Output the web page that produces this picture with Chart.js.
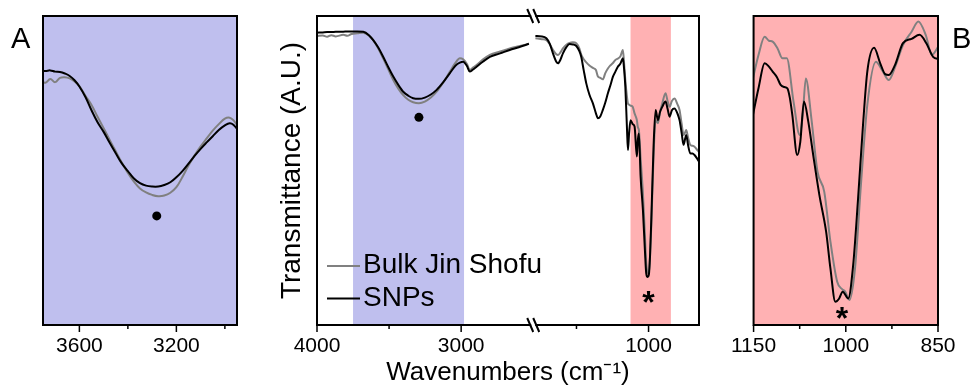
<!DOCTYPE html>
<html>
<head>
<meta charset="utf-8">
<script src="https://cdn.jsdelivr.net/npm/chart.js@4.4.1/dist/chart.umd.min.js"></script>
<style>
    html, body { margin: 0; padding: 0; background: #fff; }
    #wrap { position: relative; width: 970px; height: 386px; }
    .panel { position: absolute; top: 0; height: 386px; }
</style>
</head>
<body>
<div id="wrap">
    <div class="panel" style="left:0;width:262px"><canvas id="chartA" width="262" height="386"></canvas></div>
    <div class="panel" style="left:262px;width:460px"><canvas id="chartMain" width="460" height="386"></canvas></div>
    <div class="panel" style="left:722px;width:248px"><canvas id="chartB" width="248" height="386"></canvas></div>
</div>
<script>
// ---- data (transmittance, arbitrary units) ----
const seriesNames = ['Bulk Jin Shofu', 'SNPs'];

// panel A : 3760 - 2940 cm-1
const aWn = [3760, 3740, 3720, 3700, 3680, 3660, 3640, 3620, 3600, 3575, 3550, 3525, 3500, 3475, 3450, 3425, 3400, 3375,
    3350, 3325, 3300, 3275, 3250, 3225, 3200, 3175, 3150, 3125, 3100, 3075, 3050, 3025, 3000, 2980, 2965, 2940];
const aSnp = [82.4, 82.2, 82.4, 82.0, 81.9, 81.4, 80.6, 79.2, 77.2, 73.8, 69.5, 65.6, 62.5, 59.0, 55.6, 52.3, 49.8, 47.4,
    45.9, 45.1, 44.8, 44.8, 45.3, 46.2, 47.8, 49.8, 52.2, 54.7, 57.0, 59.1, 61.1, 63.1, 64.6, 65.3, 64.8, 62.5];
const aBulk = [79.0, 78.4, 79.6, 78.6, 80.0, 80.2, 79.8, 78.8, 77.3, 74.2, 71.2, 67.4, 63.7, 59.9, 56.2, 52.6, 49.2, 46.4,
    44.2, 42.9, 42.1, 41.7, 41.9, 42.8, 44.6, 47.9, 51.6, 54.9, 57.8, 60.4, 62.9, 65.0, 66.8, 67.1, 66.3, 63.6];

// main panel, high wavenumber segment
const mainHiWn = [4000, 3960, 3930, 3900, 3870, 3818, 3790, 3760, 3720, 3679, 3640, 3610, 3575, 3541, 3506, 3471, 3436, 3402,
    3367, 3333, 3293, 3252, 3210, 3170, 3124, 3078, 3040, 3009, 2986, 2960, 2940, 2920, 2893, 2850, 2801, 2730, 2663, 2600, 2530];
const mainHiSnp = [94.6, 94.7, 94.8, 94.8, 94.9, 94.9, 95.0, 95.0, 95.0, 94.9, 93.8, 92.2, 89.8, 86.8, 83.5, 80.4, 77.7, 75.5,
    74.2, 73.4, 73.2, 73.6, 74.6, 76.1, 78.6, 81.5, 83.9, 84.9, 85.2, 83.8, 82.0, 82.6, 83.6, 85.2, 86.8, 87.9, 89.0, 89.9, 91.0];
const mainHiBulk = [93.5, 93.7, 93.3, 93.8, 93.4, 93.9, 93.6, 94.2, 94.4, 94.6, 93.7, 92.2, 89.5, 86.3, 82.8, 79.3, 76.5, 74.4,
    72.9, 72.1, 71.8, 72.3, 73.6, 75.5, 78.5, 82.0, 84.8, 86.3, 86.0, 84.5, 82.5, 83.2, 84.1, 85.9, 87.4, 88.5, 89.5, 90.2, 91.0];

// main panel, low wavenumber segment
const mainLoWn = [1785, 1740, 1709, 1685, 1663, 1640, 1628, 1610, 1594, 1570, 1548, 1525, 1501, 1480, 1467, 1450, 1432, 1410,
    1386, 1365, 1351, 1335, 1317, 1300, 1282, 1265, 1247, 1230, 1213, 1195, 1178, 1170, 1161, 1150, 1143, 1135, 1125, 1110,
    1097, 1081, 1074, 1067, 1055, 1039, 1025, 1016, 1006, 998, 990, 981, 965, 951, 935, 920, 905, 882, 868, 854, 838, 820,
    800, 785, 770, 757, 745, 739, 725, 711, 695, 681, 665, 652];
const mainLoSnp = [93.5, 93.4, 92.8, 91.0, 87.9, 85.2, 84.7, 86.0, 87.9, 89.9, 90.9, 90.8, 90.3, 88.6, 86.8, 82.5, 78.2, 74.5,
    71.7, 68.5, 66.9, 67.5, 69.6, 72.0, 75.0, 77.5, 80.4, 82.0, 83.6, 84.6, 86.3, 83.0, 77.1, 64.0, 56.6, 62.0, 66.3, 65.0,
    64.2, 54.5, 60.0, 62.0, 48.0, 37.2, 24.0, 16.7, 15.5, 16.2, 22.0, 34.0, 58.0, 69.6, 66.3, 69.0, 70.6, 72.3, 70.0, 67.4,
    69.5, 70.1, 68.5, 66.3, 62.0, 58.3, 60.5, 61.5, 58.0, 55.6, 55.5, 55.0, 54.0, 53.0];
const mainLoBulk = [92.8, 92.5, 92.2, 90.8, 89.0, 87.6, 87.4, 88.3, 89.5, 90.7, 91.3, 91.5, 91.2, 89.5, 87.5, 86.0, 85.0, 84.0,
    83.2, 82.5, 80.4, 80.0, 79.5, 81.5, 83.0, 84.0, 84.8, 85.8, 86.2, 87.0, 89.0, 85.0, 79.3, 74.0, 71.7, 71.3, 71.0, 70.6,
    68.5, 66.3, 64.0, 63.1, 54.0, 42.6, 29.0, 20.0, 17.0, 16.7, 22.0, 31.8, 55.0, 66.3, 65.3, 69.0, 71.7, 75.0, 72.5, 70.6,
    72.5, 73.3, 71.5, 69.6, 65.0, 61.5, 62.5, 63.1, 60.5, 58.3, 58.0, 57.7, 56.8, 56.1];

// panel B : 1150 - 850 cm-1
const bSnpWn = [1152, 1142, 1132, 1125, 1119, 1112, 1106, 1100, 1095, 1091, 1087, 1079, 1074, 1068, 1061, 1053, 1043, 1032,
    1025, 1017, 1011, 1005, 996, 988, 980, 972, 965, 954, 944, 936, 930, 920, 907, 893, 880, 869, 858, 848];
const bSnp = [67.0, 76.6, 84.7, 83.6, 82.0, 80.2, 77.7, 77.0, 76.6, 73.5, 68.0, 55.0, 59.3, 72.3, 65.8, 55.0, 42.1, 30.2,
    18.3, 7.5, 8.5, 10.8, 8.6, 19.4, 41.0, 64.7, 82.0, 89.7, 84.7, 81.2, 80.9, 84.1, 91.2, 92.6, 93.9, 91.2, 86.8, 86.0];
const bBulkWn = [1152, 1142, 1132, 1125, 1119, 1111, 1103, 1096, 1085, 1075, 1070, 1065, 1056, 1046, 1035, 1025, 1014, 1006,
    1001, 994, 985, 975, 965, 951, 941, 930, 920, 907, 893, 882, 870, 860, 848];
const bBulk = [79.0, 87.4, 93.3, 92.0, 91.7, 89.5, 86.3, 86.3, 72.3, 61.5, 68.0, 79.8, 66.9, 49.6, 43.1, 27.0, 14.0, 11.6,
    10.8, 8.1, 18.3, 46.4, 71.2, 85.2, 82.5, 79.3, 83.4, 90.6, 94.9, 98.2, 93.9, 87.4, 90.6];

// x ranges, ticks, shaded bands, markers
const aRange = [2950, 3750];
const aMajor = [3600, 3200];
const aMinor = [3400, 3000];
const bRange = [850, 1150];
const bMajor = [1150, 1000, 850];
const bMinor = [1075, 925];
const mainMajor = [4000, 3000, 1000];
const mainMinor = [3500, 1500];
const blueBand = [3750, 2980];
const redBand = [1125, 845];
const dotA = [{ wn: 3281, t: 35.3 }];
const dotMain = [{ wn: 3293, t: 67.2 }];
const starMain = [{ wn: 1000, t: 9.1 }];
const starB = [{ wn: 1006, t: 3.8 }];

// broken axis: 4000-2500 and 1800-650 on one continuous scale
const BREAK_HI = 2500, BREAK_LO = 1800, LOW_END = 650;
function toAxis(w) { return w >= BREAK_HI ? 4000 - w : (4000 - BREAK_HI) + (BREAK_LO - w); }
function fromAxis(u) { return u <= 4000 - BREAK_HI ? 4000 - u : BREAK_LO - (u - (4000 - BREAK_HI)); }

const FONT = "'Liberation Sans', Arimo, Arial, sans-serif";
const BLUE = '#bfbfee';
const RED = '#ffb1b3';
const GREY = '#808080';

// decoration plugin: bands, frame, tick marks, axis break, markers, legend, panel letter
function decor(cfg) {
    const tx = cfg.toX || (v => v);
    return {
        id: 'decor',
        beforeDatasetsDraw(chart) {
            const { ctx, chartArea: ca, scales: { x } } = chart;
            ctx.save();
            (cfg.bands || []).forEach(b => {
                const x1 = x.getPixelForValue(tx(b.from));
                const x2 = x.getPixelForValue(tx(b.to));
                const l = Math.max(ca.left, Math.min(x1, x2));
                const r = Math.min(ca.right, Math.max(x1, x2));
                ctx.fillStyle = b.color;
                ctx.fillRect(l, ca.top, r - l, ca.bottom - ca.top);
            });
            ctx.restore();
        },
        afterDraw(chart) {
            const { ctx, chartArea: ca, scales: { x, y } } = chart;
            ctx.save();
            ctx.strokeStyle = '#000';
            ctx.fillStyle = '#000';

            // asterisks
            (cfg.stars || []).forEach(s => {
                ctx.font = 'bold 32px ' + FONT;
                const m = ctx.measureText('*');
                const px = x.getPixelForValue(tx(s.wn));
                const py = y.getPixelForValue(s.t);
                ctx.textAlign = 'center';
                ctx.textBaseline = 'alphabetic';
                ctx.fillText('*', px, py + (m.actualBoundingBoxAscent - m.actualBoundingBoxDescent) / 2);
            });

            // frame
            ctx.lineWidth = 2;
            ctx.lineCap = 'square';
            ctx.beginPath();
            if (cfg.breakAt !== undefined) {
                const bx = x.getPixelForValue(cfg.breakAt);
                [ca.top, ca.bottom].forEach(yy => {
                    ctx.moveTo(ca.left, yy); ctx.lineTo(bx - 3, yy);
                    ctx.moveTo(bx + 3, yy); ctx.lineTo(ca.right, yy);
                });
                ctx.moveTo(ca.left, ca.top); ctx.lineTo(ca.left, ca.bottom);
                ctx.moveTo(ca.right, ca.top); ctx.lineTo(ca.right, ca.bottom);
                ctx.stroke();
                ctx.beginPath();
                ctx.lineCap = 'butt';
                [ca.top, ca.bottom].forEach(yy => {
                    [-3, 3].forEach(dx => {
                        ctx.moveTo(bx + dx - 3, yy - 7);
                        ctx.lineTo(bx + dx + 3, yy + 7);
                    });
                });
                ctx.stroke();
            } else {
                ctx.rect(ca.left, ca.top, ca.right - ca.left, ca.bottom - ca.top);
                ctx.stroke();
            }

            // tick marks
            ctx.lineWidth = 1.5;
            ctx.lineCap = 'butt';
            ctx.beginPath();
            cfg.major.forEach(v => {
                const px = x.getPixelForValue(tx(v));
                ctx.moveTo(px, ca.bottom); ctx.lineTo(px, ca.bottom + 7);
            });
            cfg.minor.forEach(v => {
                const px = x.getPixelForValue(tx(v));
                ctx.moveTo(px, ca.bottom); ctx.lineTo(px, ca.bottom + 4);
            });
            ctx.stroke();

            // legend
            if (cfg.legend) {
                ctx.font = '28px ' + FONT;
                ctx.textAlign = 'left';
                ctx.textBaseline = 'alphabetic';
                cfg.legend.forEach((item, i) => {
                    const ly = ca.bottom - 59 + i * 32.5;
                    ctx.strokeStyle = item.color;
                    ctx.lineWidth = item.width;
                    ctx.beginPath();
                    ctx.moveTo(ca.left + 10, ly);
                    ctx.lineTo(ca.left + 43, ly);
                    ctx.stroke();
                    ctx.fillStyle = '#000';
                    ctx.fillText(item.text, ca.left + 46, ly + 7);
                });
            }

            // panel letter
            if (cfg.letter) {
                ctx.font = '29px ' + FONT;
                ctx.fillStyle = '#000';
                ctx.textAlign = 'left';
                ctx.textBaseline = 'alphabetic';
                ctx.fillText(cfg.letter.text, cfg.letter.x, cfg.letter.y);
            }
            ctx.restore();
        }
    };
}

function lineSet(label, points, color, width, smooth) {
    const ds = {
        label: label,
        data: points,
        borderColor: color,
        borderWidth: width,
        pointRadius: 0,
        fill: false,
        spanGaps: false
    };
    if (smooth) {
        ds.tension = 0.4;
    } else {
        ds.cubicInterpolationMode = 'monotone';
    }
    return ds;
}

function dotSet(points) {
    return {
        label: 'marker',
        data: points,
        showLine: false,
        pointRadius: 4.5,
        pointBackgroundColor: '#000',
        pointBorderWidth: 0,
        borderColor: '#000'
    };
}

function xAxis(min, max, reverse, tickVals, majors, toX, fromX, height, extra) {
    const axis = {
        type: 'linear',
        min: min,
        max: max,
        reverse: reverse,
        afterBuildTicks: s => { s.ticks = tickVals.map(v => ({ value: toX(v) })); },
        afterFit: s => { s.height = height; },
        grid: { display: false, drawTicks: false },
        border: { display: false },
        ticks: {
            autoSkip: false,
            maxRotation: 0,
            padding: 9,
            color: '#000',
            font: { family: FONT, size: 21 },
            callback: v => {
                const w = Math.round(fromX(v));
                return majors.includes(w) ? String(w) : '';
            }
        }
    };
    return Object.assign(axis, extra || {});
}

const ident = v => v;
const baseOpts = {
    responsive: false,
    animation: false,
    devicePixelRatio: 1,
    events: [],
    plugins: { legend: { display: false }, tooltip: { enabled: false } }
};

// ---- panel A ----
new Chart(document.getElementById('chartA').getContext('2d'), {
    type: 'line',
    data: {
        datasets: [
            dotSet(dotA.map(d => ({ x: d.wn, y: d.t }))),
            lineSet(seriesNames[1], aWn.map((w, i) => ({ x: w, y: aSnp[i] })), '#000', 2, true),
            lineSet(seriesNames[0], aWn.map((w, i) => ({ x: w, y: aBulk[i] })), GREY, 2, true)
        ]
    },
    options: Object.assign({}, baseOpts, {
        layout: { padding: { left: 43, top: 16, right: 25, bottom: 21 } },
        scales: {
            x: xAxis(aRange[0], aRange[1], true, aMajor.concat(aMinor).sort((a, b) => b - a), aMajor, ident, ident, 40),
            y: { display: false, min: 0, max: 100 }
        }
    }),
    plugins: [decor({
        bands: [{ from: aRange[1], to: aRange[0], color: BLUE }],
        major: aMajor, minor: aMinor,
        letter: { text: 'A', x: 11, y: 48 }
    })]
});

// ---- main panel ----
function brokenSeries(hiVals, loVals) {
    return mainHiWn.map((w, i) => ({ x: toAxis(w), y: hiVals[i] }))
        .concat([{ x: 4000 - BREAK_HI, y: null }])
        .concat(mainLoWn.map((w, i) => ({ x: toAxis(w), y: loVals[i] })));
}

new Chart(document.getElementById('chartMain').getContext('2d'), {
    type: 'line',
    data: {
        datasets: [
            dotSet(dotMain.map(d => ({ x: toAxis(d.wn), y: d.t }))),
            lineSet(seriesNames[1], brokenSeries(mainHiSnp, mainLoSnp), '#000', 2),
            lineSet(seriesNames[0], brokenSeries(mainHiBulk, mainLoBulk), GREY, 2)
        ]
    },
    options: Object.assign({}, baseOpts, {
        layout: { padding: { left: 16, top: 16, right: 23, bottom: 0 } },
        scales: {
            x: xAxis(0, toAxis(LOW_END), false, [4000, 3500, 3000, 1500, 1000], mainMajor, toAxis, fromAxis, 61, {
                title: {
                    display: true,
                    text: 'Wavenumbers (cm\u207B\u00B9)',
                    color: '#000',
                    padding: 0,
                    font: { family: FONT, size: 26, lineHeight: 1 }
                }
            }),
            y: {
                min: 0,
                max: 100,
                afterFit: s => { s.width = 39; },
                grid: { display: false, drawTicks: false },
                border: { display: false },
                ticks: { display: false },
                title: {
                    display: true,
                    text: 'Transmittance (A.U.)',
                    color: '#000',
                    padding: 0,
                    font: { family: FONT, size: 28, lineHeight: 1 }
                }
            }
        }
    }),
    plugins: [decor({
        toX: toAxis,
        bands: [
            { from: blueBand[0], to: blueBand[1], color: BLUE },
            { from: redBand[0], to: redBand[1], color: RED }
        ],
        stars: starMain,
        breakAt: 4000 - BREAK_HI,
        major: mainMajor, minor: mainMinor,
        legend: [
            { text: seriesNames[0], color: GREY, width: 2 },
            { text: seriesNames[1], color: '#000', width: 2 }
        ]
    })]
});

// ---- panel B ----
new Chart(document.getElementById('chartB').getContext('2d'), {
    type: 'line',
    data: {
        datasets: [
            lineSet(seriesNames[1], bSnpWn.map((w, i) => ({ x: w, y: bSnp[i] })), '#000', 2),
            lineSet(seriesNames[0], bBulkWn.map((w, i) => ({ x: w, y: bBulk[i] })), GREY, 2)
        ]
    },
    options: Object.assign({}, baseOpts, {
        layout: { padding: { left: 25, top: 16, right: 32, bottom: 21 } },
        scales: {
            x: xAxis(bRange[0], bRange[1], true, [1150, 1075, 1000, 925, 850], bMajor, ident, ident, 40),
            y: { display: false, min: 0, max: 100 }
        }
    }),
    plugins: [decor({
        bands: [{ from: bRange[1], to: bRange[0], color: RED }],
        stars: starB,
        major: bMajor, minor: bMinor,
        letter: { text: 'B', x: 230, y: 48 }
    })]
});
</script>
</body>
</html>
